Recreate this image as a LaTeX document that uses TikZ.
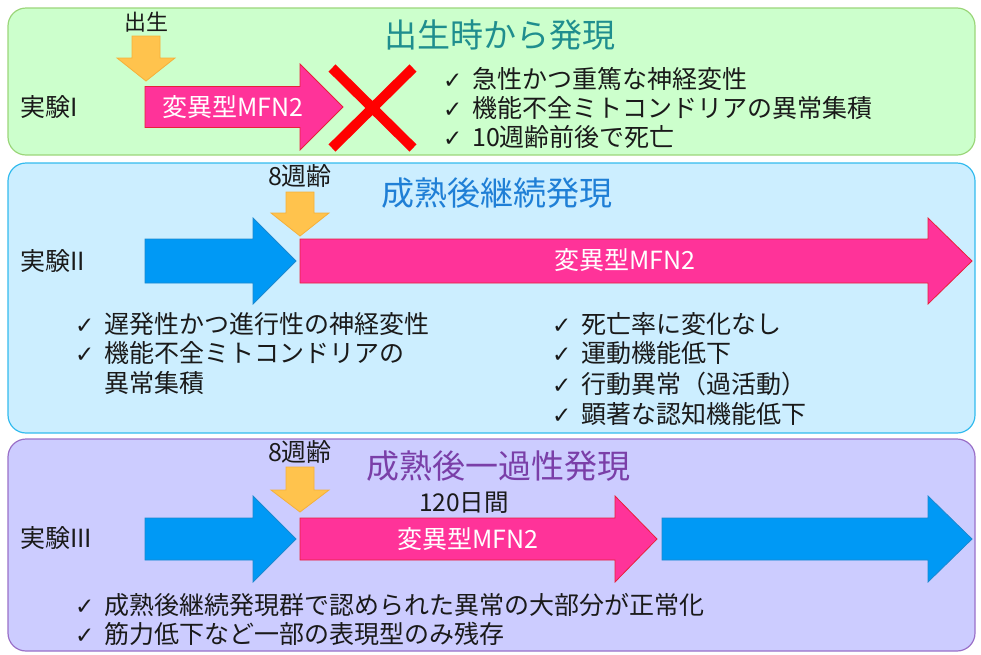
\documentclass[tikz,border=0pt]{standalone}
\usepackage{fontspec}
\setmainfont{Noto Sans CJK JP}
\newfontfamily\symfont{DejaVu Sans}
\definecolor{gfill}{HTML}{CCFFCC}
\definecolor{gline}{HTML}{9BD67A}
\definecolor{bfill}{HTML}{CCEEFF}
\definecolor{bline}{HTML}{33BBEE}
\definecolor{pfill}{HTML}{CCCCFF}
\definecolor{pline}{HTML}{9A70C8}
\definecolor{pinkA}{HTML}{FF3399}
\definecolor{pinkB}{HTML}{E8203A}
\definecolor{blueA}{HTML}{0099F5}
\definecolor{blueB}{HTML}{1A88D0}
\definecolor{orA}{HTML}{FFC34D}
\definecolor{orB}{HTML}{F5B03A}
\definecolor{tealT}{HTML}{1F8E8E}
\definecolor{blueT}{HTML}{1F7FD6}
\definecolor{purT}{HTML}{7A3FA8}
\definecolor{txt}{HTML}{1A1A1A}
\newcommand\chk{{\symfont\fontsize{23}{23}\selectfont ✓}}
\newcommand\itm[1]{\makebox[29pt][l]{\chk}#1}
\newcommand\noitm[1]{\makebox[29pt][l]{}#1}
% right block arrow: style, x0, xhead, xtip, yc, shaft half, head half
\newcommand\rarrow[7]{\filldraw[#1] (#2,#5-#6) -- (#3,#5-#6) -- (#3,#5-#7) -- (#4,#5) -- (#3,#5+#7) -- (#3,#5+#6) -- (#2,#5+#6) -- cycle;}
% down block arrow: cx, ytop, yhead, ytip
\newcommand\darrow[4]{\filldraw[orarrow] (#1-14,#2) -- (#1+14,#2) -- (#1+14,#3) -- (#1+29,#3) -- (#1,#4) -- (#1-29,#3) -- (#1-14,#3) -- cycle;}
\tikzset{
  panel/.style={rounded corners=18pt, line width=1.2pt},
  pinkarrow/.style={fill=pinkA, draw=pinkB, line width=0.8pt},
  bluearrow/.style={fill=blueA, draw=blueB, line width=0.8pt},
  orarrow/.style={fill=orA, draw=orB, line width=0.8pt},
  title/.style={inner sep=0pt, font=\fontsize{33}{36}\selectfont},
  label/.style={inner sep=0pt, text=txt, font=\fontsize{25}{28}\selectfont},
  wlabel/.style={inner sep=0pt, text=white, font=\fontsize{25}{28}\selectfont},
  lst/.style={inner sep=0pt, text=txt, anchor=base west},
}
\begin{document}
\begin{tikzpicture}[x=1pt,y=-1pt]
\useasboundingbox (0,0) rectangle (981,654);
% panels
\filldraw[panel, fill=gfill, draw=gline] (8,8) rectangle (975,155);
\filldraw[panel, fill=bfill, draw=bline] (8,163) rectangle (975,433);
\filldraw[panel, fill=pfill, draw=pline] (8,439) rectangle (975,651);

% ---------- Experiment I ----------
\node[title, text=tealT] (t1) at (500,35) {出生時から発現};
\node[label, anchor=west] (e1) at (20,107) {実験I};
\node[label, font=\fontsize{22}{24}\selectfont] (b1) at (146,22) {出生};
\darrow{146}{36}{58}{81}
\rarrow{pinkarrow}{145}{300}{343}{107}{20.5}{43}
\node[wlabel] (m1) at (233,107) {変異型MFN2};
\draw[red, line width=10pt] (332,68) -- (413,148);
\draw[red, line width=10pt] (413,68) -- (332,148);
\node[lst, font=\fontsize{25}{28}\selectfont] (l1) at (443,88) {\begin{tabular}[t]{@{}l@{}}
\itm{急性かつ重篤な神経変性}\\
\itm{機能不全ミトコンドリアの異常集積}\\
\itm{10週齢前後で死亡}
\end{tabular}};

% ---------- Experiment II ----------
\node[title, text=blueT] (t2) at (497,193) {成熟後継続発現};
\node[label, anchor=west] (e2) at (20,261) {実験II};
\node[label] (w2) at (300,176) {8週齢};
\darrow{300}{192}{213}{236}
\rarrow{bluearrow}{145}{253}{296}{261}{22}{43}
\rarrow{pinkarrow}{300}{928}{972}{261}{22}{43}
\node[wlabel] (m2) at (625,260) {変異型MFN2};
\node[lst, font=\fontsize{25}{29.5}\selectfont] (l2a) at (75,333) {\begin{tabular}[t]{@{}l@{}}
\itm{遅発性かつ進行性の神経変性}\\
\itm{機能不全ミトコンドリアの}\\
\noitm{異常集積}
\end{tabular}};
\node[lst, font=\fontsize{25}{29.5}\selectfont] (l2b) at (552,333) {\begin{tabular}[t]{@{}l@{}}
\itm{死亡率に変化なし}\\
\itm{運動機能低下}\\
\itm{行動異常（過活動）}\\
\itm{顕著な認知機能低下}
\end{tabular}};

% ---------- Experiment III ----------
\node[title, text=purT] (t3) at (498,466) {成熟後一過性発現};
\node[label, anchor=west] (e3) at (20,538) {実験III};
\node[label] (w3) at (300,452) {8週齢};
\darrow{300}{467}{490}{512}
\node[label, font=\fontsize{24.5}{27}\selectfont] (d3) at (464,503) {120日間};
\rarrow{bluearrow}{145}{253}{296}{539}{21}{43}
\rarrow{pinkarrow}{300}{615}{657}{539}{21}{43}
\rarrow{bluearrow}{662}{928}{972}{539}{21}{43}
\node[wlabel] (m3) at (468,539) {変異型MFN2};
\node[lst, font=\fontsize{25}{27}\selectfont] (l3) at (75,614) {\begin{tabular}[t]{@{}l@{}}
\itm{成熟後継続発現群で認められた異常の大部分が正常化}\\
\itm{筋力低下など一部の表現型のみ残存}
\end{tabular}};
\end{tikzpicture}
\end{document}
